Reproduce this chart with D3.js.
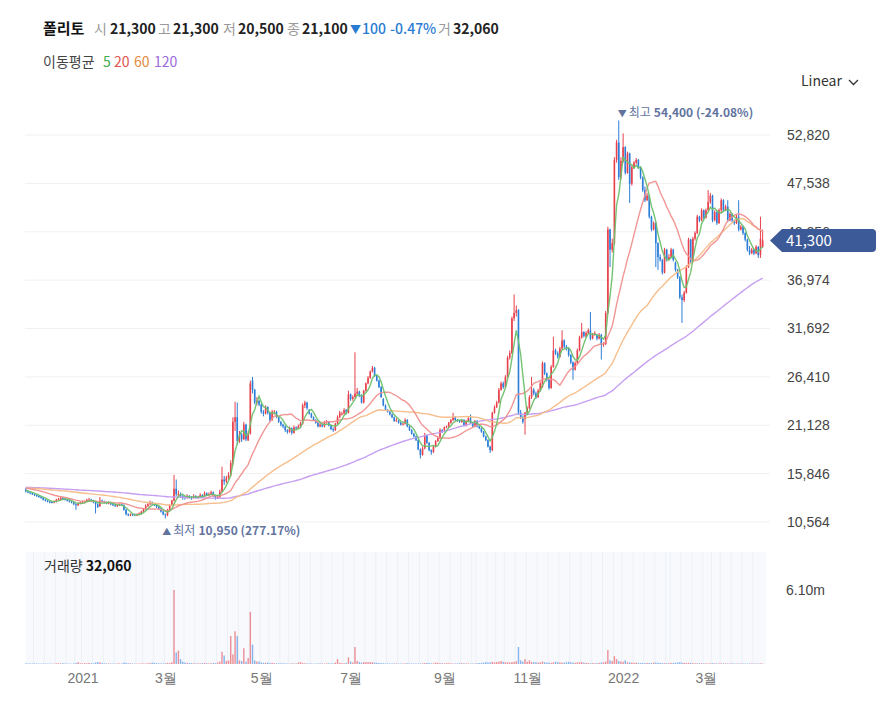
<!DOCTYPE html>
<html>
<head>
<meta charset="utf-8">
<script src="https://cdn.jsdelivr.net/npm/d3@7"></script>
<style>
  body { margin: 0; background: #fff; }
  svg { display: block; font-family: "Noto Sans CJK KR", "Noto Sans", sans-serif; }
</style>
</head>
<body>
<svg id="chart" width="882" height="721"></svg>
<script>
// KRX closed days inside the range
const holidays = ["2020-12-25","2020-12-31","2021-01-01","2021-02-11","2021-02-12","2021-03-01","2021-05-05","2021-05-19",
  "2021-08-16","2021-09-20","2021-09-21","2021-09-22","2021-10-04","2021-10-11","2021-12-31","2022-01-31","2022-02-01",
  "2022-02-02","2022-03-01","2022-03-09"];

// closes before the first visible candle (thousand won), only feed the moving averages
const priorCloses = [
  14.6,14.5,14.7,14.8,14.6,14.4,14.5,14.3,14.2,14.4, 14.6,14.7,14.5,14.3,14.2,14.4,14.5,14.6,14.8,14.7,
  14.5,14.4,14.3,14.5,14.6,14.4,14.2,14.1,14.3,14.4, 14.6,14.5,14.3,14.2,14.4,14.5,14.7,14.6,14.4,14.3,
  14.5,14.6,14.4,14.3,14.2,14.4,14.5,14.3,14.1,14.2, 14.4,14.5,14.6,14.4,14.3,14.5,14.4,14.2,14.3,14.4,
  14.5,14.6,14.4,14.3,14.2,14.4,14.3,14.1,14.0,14.2, 14.3,14.5,14.4,14.2,14.1,14.3,14.4,14.2,14.0,14.1,
  14.3,14.4,14.5,14.3,14.2,14.4,14.5,14.3,14.2,14.1, 14.3,14.4,14.2,14.1,14.0,14.2,14.3,14.4,14.5,14.4,
  14.6,14.5,14.4,14.6,14.5,14.3,14.4,14.5,14.3,14.2, 14.4,14.3,14.2,14.3,14.1,14.2,14.0,14.1,14.0,14.0];

// daily [open, high, low, close] in thousand won, 2020-11-24 .. 2022-04-08
const ohlc = [
  [14.1,14.3,13.8,13.9],[13.9,14.0,13.7,13.8],[13.8,13.9,13.6,13.7],[13.7,13.8,13.5,13.6],[13.6,13.7,13.4,13.5],[13.5,13.6,13.3,13.4],[13.4,13.5,13.2,13.3],[13.3,13.4,13.1,13.2],
  [13.2,13.3,12.9,13.0],[13.0,13.1,12.8,12.9],[12.9,13.0,12.7,12.8],[12.8,12.9,12.6,12.75],[12.75,12.8,12.6,12.7],[12.7,12.9,12.6,12.8],[12.8,13.1,12.7,13.0],[13.0,13.2,12.9,13.1],[13.0,13.4,12.9,13.2],[13.2,13.3,13.0,13.1],
  [13.1,13.2,12.9,13.0],[13.0,13.1,12.8,12.9],[12.9,13.0,12.7,12.8],[12.8,12.9,12.6,12.7],[12.7,12.8,12.4,12.5],[12.5,12.6,11.9,12.4],[12.4,12.7,12.3,12.6],[12.6,12.8,12.5,12.7],[12.7,12.9,12.6,12.8],
  [12.7,12.9,12.6,12.8],[12.8,13.1,12.7,13.0],[12.9,13.2,12.8,13.0],[13.0,13.1,12.8,12.9],[12.9,13.0,12.6,12.7],[12.7,12.8,11.5,12.5],[12.5,12.6,12.1,12.2],[12.3,13.3,12.2,12.9],[12.9,13.0,12.7,12.8],[12.8,12.9,12.6,12.7],[12.7,12.8,12.5,12.6],[12.6,12.8,12.5,12.7],
  [12.6,12.7,12.4,12.5],[12.5,12.6,12.3,12.4],[12.4,12.5,12.2,12.3],[12.3,12.5,12.2,12.4],[12.4,12.6,12.3,12.5],[12.5,12.6,12.3,12.4],[12.4,12.5,11.8,11.9],[11.9,12.0,11.3,11.4],[11.4,11.5,11.2,11.3],[11.3,11.5,11.2,11.4],[11.4,11.5,11.2,11.3],
  [11.4,11.5,11.2,11.3],[11.3,11.5,11.2,11.4],[11.4,11.6,11.3,11.5],[11.5,11.8,11.4,11.7],[11.7,12.1,11.6,12.0],[12.0,12.5,11.9,12.3],[12.3,12.6,12.2,12.5],[12.5,12.9,12.4,12.7],[12.7,12.8,12.4,12.5],[12.5,12.6,12.3,12.4],
  [12.4,12.5,12.1,12.2],[12.2,12.3,11.9,12.0],[12.0,12.1,11.6,11.7],[11.7,11.8,11.3,11.4],[11.4,11.5,10.95,11.3],[11.3,12.0,11.2,11.9],[11.9,12.5,11.8,12.4],[12.4,13.0,12.3,12.9],[12.9,15.7,12.8,14.2],[14.2,15.2,13.4,13.6],
  [13.6,14.0,13.4,13.6],[13.6,13.8,13.2,13.4],[13.4,13.5,13.0,13.2],
  [13.3,13.4,13.0,13.2],[13.2,13.6,13.1,13.4],[13.4,13.5,13.1,13.3],[13.3,13.4,13.0,13.2],[13.2,13.6,13.1,13.4],[13.4,13.5,13.1,13.2],[13.2,13.4,13.1,13.3],[13.3,13.7,13.2,13.5],[13.5,13.6,13.2,13.3],
  [13.4,13.9,13.3,13.7],[13.7,13.8,13.4,13.5],[13.5,13.8,13.4,13.6],[13.6,14.0,13.5,13.8],[13.8,13.9,13.3,13.4],[13.4,13.5,13.0,13.2],[13.2,13.5,13.1,13.3],[13.3,14.1,13.2,13.9],[13.9,16.6,13.8,15.2],[15.2,15.6,14.6,15.0],
  [15.0,15.6,14.8,15.4],[15.4,16.0,15.2,15.7],[15.7,17.3,15.5,17.0],[17.0,22.0,16.8,21.5],[21.5,23.7,20.5,22.0],[22.0,23.6,19.0,19.4],[19.4,20.5,19.2,20.1],[20.1,20.3,19.3,19.6],[19.6,21.5,19.5,21.2],[21.2,21.3,19.4,19.6],
  [19.5,20.5,19.4,20.2],[20.2,26.0,20.1,25.7],[26.0,26.4,24.6,25.0],[25.0,25.1,23.4,23.6],[23.6,24.2,23.3,23.8],[23.8,23.9,23.2,23.4],[23.4,23.5,22.4,22.6],[22.6,22.8,22.1,22.4],[22.4,23.3,22.3,23.1],[23.1,23.2,22.3,22.5],
  [22.5,22.6,21.5,21.7],[21.7,22.8,21.6,22.6],
  [22.5,22.8,22.3,22.6],[22.6,22.7,21.9,22.0],[22.0,22.1,21.4,21.5],[21.5,21.6,21.0,21.2],[21.2,21.3,20.8,21.0],[21.0,21.1,20.4,20.6],[20.6,20.7,20.2,20.4],[20.4,21.0,20.3,20.8],[20.8,20.9,20.1,20.3],[20.3,21.1,20.2,20.9],
  [20.9,21.0,20.6,20.8],[20.8,21.2,20.7,21.0],[21.0,21.5,20.9,21.3],[21.3,23.5,21.2,23.3],[23.3,23.8,23.0,23.6],[23.6,23.7,22.8,23.0],
  [22.8,22.9,22.3,22.4],[22.4,22.5,21.9,22.0],[22.0,22.1,21.6,21.7],[21.7,21.8,21.3,21.4],[21.4,21.5,20.9,21.0],[21.0,21.4,20.9,21.2],[21.2,21.3,20.9,21.0],[21.0,21.6,20.9,21.4],[21.4,21.7,21.3,21.5],[21.5,21.6,21.0,21.1],
  [21.1,21.2,20.6,20.7],[20.7,20.9,20.4,20.6],[20.6,21.4,20.5,21.3],[21.3,22.2,21.2,22.0],[22.0,22.7,21.9,22.5],
  [22.3,22.6,22.2,22.4],[22.4,23.0,22.3,22.8],[22.8,22.9,22.3,22.5],[22.5,24.9,22.4,24.5],[24.5,24.6,23.8,24.0],[24.0,24.4,23.8,24.2],[24.2,29.1,24.1,24.6],[24.6,25.2,24.4,24.8],[24.8,24.9,24.2,24.4],[24.4,24.5,23.5,23.6],
  [23.6,25.0,23.5,24.9],[24.9,25.8,24.8,25.7],[25.7,26.5,25.6,26.3],[26.3,27.1,26.2,27.0],[27.0,27.6,26.9,27.4],[27.4,27.5,26.4,26.5],[26.5,26.6,25.9,26.0],[26.0,26.1,25.2,25.3],[25.3,25.4,24.1,24.2],
  [24.0,24.1,23.2,23.3],[23.3,23.4,22.7,22.8],[22.8,22.9,22.5,22.6],[22.6,22.7,22.2,22.3],[22.3,22.4,21.9,22.0],[22.0,22.1,21.5,21.6],[21.6,21.9,21.5,21.7],
  [21.6,21.7,21.3,21.4],[21.4,21.5,21.1,21.2],[21.2,21.4,21.1,21.3],[21.3,21.9,21.2,21.7],[21.7,21.8,20.9,21.0],[21.0,21.1,20.5,20.6],[20.6,20.7,20.1,20.2],[20.2,20.3,19.8,19.9],[19.9,20.0,19.4,19.5],[19.5,19.6,18.4,18.5],
  [18.5,18.6,17.5,17.9],[17.9,18.8,17.8,18.6],[18.6,20.3,18.5,20.0],[20.0,20.1,19.1,19.2],[19.2,19.3,18.3,18.4],[18.4,18.5,17.9,18.2],[18.2,18.9,18.1,18.8],[18.8,19.5,18.7,19.4],[19.4,19.9,19.3,19.7],[19.7,20.8,19.6,20.6],
  [20.6,20.7,20.3,20.4],
  [20.6,21.0,20.5,20.9],[20.9,21.1,20.8,21.0],[21.0,21.5,20.9,21.4],[21.4,21.8,21.3,21.7],[21.7,22.5,21.6,22.0],[22.0,22.1,21.6,21.7],[21.7,21.8,21.5,21.6],[21.6,21.7,21.4,21.5],[21.5,21.8,21.4,21.7],[21.7,21.8,21.0,21.1],
  [21.1,21.7,21.0,21.6],[21.6,22.0,21.5,21.9],[21.9,22.3,21.3,21.4],[21.4,21.5,20.9,21.0],[21.0,21.7,20.9,21.6],
  [21.6,21.7,20.9,21.0],[21.0,21.1,20.7,20.8],[20.8,20.9,20.3,20.4],[20.4,20.5,19.8,19.9],[19.9,20.0,19.4,19.5],[19.5,19.6,18.7,18.8],[18.8,18.9,18.1,18.4],[18.4,22.6,18.3,22.5],[22.5,23.3,22.4,23.1],[23.1,23.8,23.0,23.6],
  [23.6,25.2,23.5,25.0],[25.0,25.9,24.9,25.7],[25.7,25.9,25.1,25.3],[25.3,26.6,25.2,26.4],[26.4,28.7,26.3,28.5],[28.5,29.3,28.3,29.0],[29.0,33.0,28.9,32.8],[32.8,35.4,32.5,33.4],[33.4,34.2,33.0,33.7],[33.7,33.8,22.3,22.5],
  [22.5,22.8,21.8,22.0],[22.0,22.2,21.3,21.5],
  [21.8,22.6,20.1,22.5],[22.5,23.2,22.3,23.0],[23.0,24.4,22.9,24.2],[24.2,26.4,24.0,25.0],[25.0,25.2,24.4,24.6],[24.6,24.8,24.0,24.2],[24.2,25.1,24.1,24.9],[24.9,25.9,24.8,25.7],
  [25.3,28.1,25.2,27.9],[27.9,28.0,26.6,26.8],[26.8,26.9,25.9,26.1],[26.1,26.2,25.0,25.2],[25.2,27.7,25.1,27.5],[27.5,30.8,27.4,29.3],[29.3,29.5,28.8,29.0],[29.0,29.2,28.4,28.6],[28.6,29.7,28.5,29.5],[29.5,31.5,29.4,30.4],
  [30.4,30.5,29.5,29.7],[29.7,29.9,29.3,29.5],[29.5,29.6,28.6,28.8],[28.8,28.9,27.8,28.0],[28.0,28.1,26.1,27.2],[27.2,28.1,27.1,27.9],[27.9,29.5,27.8,29.3],[29.3,30.9,29.2,30.7],[30.7,32.3,30.6,31.3],[31.3,31.4,30.7,30.9],
  [30.8,31.4,30.7,31.2],[31.2,31.7,31.1,31.5],[31.5,33.5,30.4,30.6],[30.6,31.2,30.5,31.0],[31.0,31.4,30.9,31.2],
  [31.0,31.1,30.4,30.6],[30.6,31.2,30.5,31.0],[31.0,31.1,28.3,29.9],[29.9,30.2,29.7,30.0],[30.0,33.6,29.9,33.4],[33.4,42.8,33.3,42.5],[42.5,42.6,38.4,40.3],[40.3,41.5,40.0,41.0],[41.0,50.4,40.8,50.1],[50.1,52.3,49.8,52.0],
  [52.0,54.4,47.9,48.2],[48.2,50.4,48.0,50.0],[50.0,53.0,49.8,51.5],[51.5,51.6,48.5,48.7],[48.7,51.0,48.6,50.8],[50.8,50.9,45.4,47.5],[47.5,49.5,47.3,49.3],[49.3,50.0,49.1,49.8],[49.8,50.3,49.6,50.1],[50.1,50.2,49.1,49.3],
  [49.3,49.4,48.0,48.2],[48.2,48.3,46.6,46.8],
  [46.8,47.2,45.5,45.7],[45.7,46.5,45.6,46.2],[46.2,46.3,43.7,43.9],[43.9,44.0,42.3,42.5],[42.5,43.4,42.4,43.2],[43.2,43.3,38.4,41.0],[41.0,41.1,38.1,39.5],[39.5,39.8,39.0,39.2],[39.2,39.3,37.6,37.8],[37.8,40.5,37.7,40.3],
  [40.3,40.4,39.0,39.2],[39.2,39.8,39.1,39.5],[39.5,40.5,39.4,40.3],[40.3,40.4,39.0,39.2],
  [38.9,39.0,37.9,38.1],[38.1,38.2,37.1,37.3],[37.3,37.4,34.9,35.1],[35.1,35.4,32.3,34.8],[34.8,35.8,34.6,35.6],[35.6,38.6,35.5,38.4],[38.4,41.6,38.3,41.4],[41.4,41.5,38.8,39.0],[39.0,41.7,38.9,41.5],[41.5,42.3,41.3,42.1],
  [42.1,44.1,42.0,43.9],[43.9,44.0,43.3,43.5],[43.5,44.8,43.4,44.6],[44.6,44.7,43.6,43.8],[43.8,44.8,43.7,44.6],[44.6,46.8,44.5,45.5],[45.5,46.5,45.3,46.2],[46.2,46.3,43.3,43.5],[43.5,44.6,43.4,44.4],[44.4,44.5,43.0,43.2],
  [43.2,44.8,43.1,44.6],
  [44.6,45.9,44.3,45.7],[45.7,45.8,44.4,44.6],[44.6,45.2,44.5,45.0],[45.0,45.7,43.3,43.5],[43.5,44.4,43.4,44.2],[44.2,44.3,43.3,43.5],[43.5,43.6,43.0,43.2],[43.2,44.1,43.1,43.9],[43.9,45.7,42.3,42.5],[42.5,43.0,42.4,42.8],
  [42.8,42.9,41.9,42.1],[42.1,42.2,41.2,41.4],[41.4,41.5,40.1,40.3],
  [40.3,40.7,39.7,39.9],[39.9,40.5,39.8,40.3],[40.3,40.4,39.7,39.9],[39.9,40.8,39.8,40.6],[40.6,40.7,39.4,39.7],[39.7,43.9,39.4,41.5],[40.6,42.5,40.5,41.3]
];

// daily volume, thousand shares
const volumesK = [
  60,45,40,38,50,42,35,30,45,38, 35,40,30,28,55,60,42,70,40,35, 30,28,45,80,150,60,55,70,50,90,
  60,55,120,160,140,75,60,50,45,40, 38,35,45,50,40,120,90,60,55,40, 35,30,40,45,38,42,60,80,110,95,
  70,60,50,45,60,90,80,150,6100,950, 1100,400,180,120,90,80,70,60,50,60, 55,70,90,60,50,65,80,70,120,200,
  1000,700,250,300,2300,800,2700,2300,300,250, 1300,200,500,4300,1600,300,200,200,120,100, 90,120,80,100,70,60,55,50,60,45,
  40,38,50,45,40,120,150,90,60,50, 45,40,35,38,45,50,40,35,60,55, 45,50,120,400,90,70,60,80,550,200,
  120,1400,250,150,120,150,150,150,150,150, 120,100,80,70,60,55,50,45,40,50, 45,40,38,45,50,60,55,40,35,38,
  42,45,60,80,90,70,55,60,120,90, 70,60,50,80,60,50,45,40,55,60, 70,55,45,50,40,38,45,60,80,90,
  110,150,120,140,180,130,160,200,250,180, 150,140,120,160,180,220,1400,300,200,400, 180,300,160,150,140,120,130,200,150,120,
  110,100,140,180,150,130,120,110,150,180, 140,120,100,130,150,170,110,90,80,70, 75,60,80,90,120,140,200,1150,300,250,
  650,400,250,200,180,300,150,130,120,100, 110,90,80,85,70,90,80,75,110,120, 100,90,80,70,60,70,80,90,100,120,
  150,110,90,80,100,90,70,60,55,70, 60,55,50,45,60,70,55,50,45,60, 55,50,45,40,50,45,40,38,42,40,
  38,35,40,45,38,42,45,60,32.06
];

const priceTicks = [10564, 15846, 21128, 26410, 31692, 36974, 42256, 47538, 52820];
const volumeTicksK = [6100];
const monthTicks = [["2021-01","2021"],["2021-03","3월"],["2021-05","5월"],["2021-07","7월"],
  ["2021-09","9월"],["2021-11","11월"],["2022-01","2022"],["2022-03","3월"]];
const maPeriods = [5, 20, 60, 120];
const headerParts = [["폴리토","name"],["시","key"],["21,300","val"],["고","key"],["21,300","val"],["저","key"],["20,500","val"],
  ["종","key"],["21,100","val"],["▼","arrow"],["100","chg"],["-0.47%","chg"],["거","key"],["32,060","val"]];
const lastPrice = 41300;
const lastVolume = "32,060";

const UP = "#e8414c", DOWN = "#2d7ed8";
const maColors = ["#6cc06c", "#f0908e", "#f6bb86", "#c39af0"];
const maLegendColors = ["#3fae49", "#e0524f", "#e48a3c", "#9a6bd9"];

const svg = d3.select("#chart");
const fmtDay = d3.timeFormat("%Y-%m-%d"), fmtMonth = d3.timeFormat("%Y-%m");
const holidaySet = new Set(holidays);
const dates = d3.timeDay.range(new Date(2020, 10, 24), new Date(2022, 3, 9))
  .filter(d => d.getDay() % 6 !== 0 && !holidaySet.has(fmtDay(d)));
const n = ohlc.length;

const x = d3.scaleLinear().domain([0, n - 1]).range([25.8, 25.8 + (n - 1) * 2.18]);
const y = d3.scaleLinear().domain([priceTicks[0], priceTicks[priceTicks.length - 1]]).range([522, 135]);
const yv = d3.scaleLinear().domain([0, 6100]).range([664, 590]);
const K = 1000;
const num = d3.format(",");

// header
const headX = [43, 94, 110, 158, 173, 223, 238, 287, 302, 350, 362, 390, 438, 453];
const head = svg.append("text").attr("y", 34).style("font-size", "14px");
headerParts.forEach(([t, kind], k) => {
  const ts = head.append("tspan").attr("x", headX[k]).text(t);
  if (kind === "name") ts.attr("font-weight", 700).attr("fill", "#111").style("font-size", "15px");
  if (kind === "key") ts.attr("fill", "#9a9a9a");
  if (kind === "val") ts.attr("font-weight", 700).attr("fill", "#222");
  if (kind === "chg") ts.attr("fill", "#2a7bd4").attr("font-weight", 500);
  if (kind === "arrow") ts.attr("fill", "#2a7bd4").style("font-size", "11px");
});
const leg = svg.append("text").attr("y", 67).style("font-size", "14px");
leg.append("tspan").attr("x", 43).attr("fill", "#444").text("이동평균");
const legX = [103, 114, 134, 154];
maPeriods.forEach((p, k) => leg.append("tspan").attr("x", legX[k]).attr("fill", maLegendColors[k]).text(p));

// scale switch
svg.append("text").attr("x", 801).attr("y", 86).style("font-size", "14px").attr("fill", "#333").text("Linear");
svg.append("polyline").attr("points", "849,80 853.5,84.5 858,80").attr("fill", "none")
  .attr("stroke", "#333").attr("stroke-width", 1.3);

// grid
svg.append("g").selectAll("line").data(priceTicks).join("line")
  .attr("x1", 25).attr("x2", 770).attr("y1", d => y(d)).attr("y2", d => y(d))
  .attr("stroke", "#f1f1f1");

// price axis
const ay = svg.append("g").attr("transform", "translate(778,0)")
  .call(d3.axisRight(y).tickValues(priceTicks).tickSize(0).tickPadding(9).tickFormat(num));
ay.select(".domain").remove();
ay.selectAll("text").attr("fill", "#444").style("font-size", "14px").style("font-family", "inherit");

// candles
const cg = svg.append("g");
cg.selectAll("line").data(ohlc).join("line")
  .attr("x1", (d, i) => x(i)).attr("x2", (d, i) => x(i))
  .attr("y1", d => y(d[1] * K)).attr("y2", d => y(d[2] * K))
  .attr("stroke", d => d[3] >= d[0] ? UP : DOWN).attr("stroke-width", 1);
cg.selectAll("rect").data(ohlc).join("rect")
  .attr("x", (d, i) => x(i) - 0.8).attr("width", 1.6)
  .attr("y", d => y(Math.max(d[0], d[3]) * K))
  .attr("height", d => Math.max(1, Math.abs(y(d[0] * K) - y(d[3] * K))))
  .attr("fill", d => d[3] >= d[0] ? UP : DOWN);

// moving averages
const allCloses = priorCloses.concat(ohlc.map(d => d[3]));
const P = priorCloses.length;
const movingAvg = k => ohlc.map((d, i) => {
  const end = P + i + 1;
  return d3.mean(allCloses.slice(Math.max(0, end - k), end)) * K;
});
const line = d3.line().x((d, i) => x(i)).y(d => y(d));
maPeriods.slice().reverse().forEach(p => {
  const k = maPeriods.indexOf(p);
  svg.append("path").datum(movingAvg(p)).attr("d", line)
    .attr("fill", "none").attr("stroke", maColors[k]).attr("stroke-width", 1.4).attr("stroke-opacity", 0.95);
});

// high / low markers
const hiI = d3.maxIndex(ohlc, d => d[1]), loI = d3.minIndex(ohlc, d => d[2]);
const hi = ohlc[hiI][1] * K, lo = ohlc[loI][2] * K;
const pct = v => (v * 100).toFixed(2) + "%";
function marker(tx, ty, arrow, word, value, change) {
  const t = svg.append("text").attr("x", tx).attr("y", ty).style("font-size", "12px").attr("fill", "#61739f");
  t.append("tspan").style("font-size", "9px").text(arrow);
  t.append("tspan").attr("dx", 2).text(word);
  t.append("tspan").attr("dx", 3).attr("font-weight", 700).text(num(value) + " (" + change + ")");
}
marker(x(hiI) - 1, y(hi) - 4, "▼", "최고", hi, pct(lastPrice / hi - 1));
marker(x(loI) - 3, y(lo) + 17, "▲", "최저", lo, pct(lastPrice / lo - 1));

// last price badge
const by = y(lastPrice);
svg.append("path")
  .attr("d", `M770,${by} L782,${by - 11.5} L872,${by - 11.5} Q876,${by - 11.5} 876,${by - 7.5} L876,${by + 7.5} Q876,${by + 11.5} 872,${by + 11.5} L782,${by + 11.5} Z`)
  .attr("fill", "#3d5a98");
svg.append("text").attr("x", 786).attr("y", by + 5.5).style("font-size", "15px").attr("fill", "#fff")
  .text(num(lastPrice));

// volume panel
svg.append("rect").attr("x", 26).attr("y", 552).attr("width", 740).attr("height", 112).attr("fill", "#f7f9fc");
const weekStarts = dates.slice(0, n).map((d, i) => [d, i]).filter(([d, i]) => i > 0 && d.getDay() < dates[i - 1].getDay());
svg.append("g").selectAll("line").data(weekStarts).join("line")
  .attr("x1", d => x(d[1]) - 1).attr("x2", d => x(d[1]) - 1).attr("y1", 552).attr("y2", 664)
  .attr("stroke", "#edf0f6").attr("stroke-width", 1);
svg.append("g").selectAll("rect").data(volumesK).join("rect")
  .attr("x", (d, i) => x(i) - 0.7).attr("width", 1.4)
  .attr("y", d => yv(d)).attr("height", d => 664 - yv(d))
  .attr("fill", (d, i) => ohlc[i][3] >= ohlc[i][0] ? "#eb8e96" : "#86b3ea");
const vl = svg.append("text").attr("x", 44).attr("y", 571).style("font-size", "14px");
vl.append("tspan").attr("fill", "#333").text("거래량 ");
vl.append("tspan").attr("font-weight", 700).attr("fill", "#111").text(lastVolume);
const av = svg.append("g").attr("transform", "translate(777,0)")
  .call(d3.axisRight(yv).tickValues(volumeTicksK).tickSize(0).tickPadding(9).tickFormat(v => (v / K).toFixed(2) + "m"));
av.select(".domain").remove();
av.selectAll("text").attr("fill", "#444").style("font-size", "14px").style("font-family", "inherit");

// month axis
const monthIdx = monthTicks.map(([m]) => dates.findIndex(d => fmtMonth(d) === m));
const ax = svg.append("g").attr("transform", "translate(0,664)")
  .call(d3.axisBottom(x).tickValues(monthIdx).tickSize(0).tickPadding(9).tickFormat((d, k) => monthTicks[k][1]));
ax.select(".domain").remove();
ax.selectAll("text").attr("fill", "#777").style("font-size", "14px").style("font-family", "inherit");
</script>
</body>
</html>
